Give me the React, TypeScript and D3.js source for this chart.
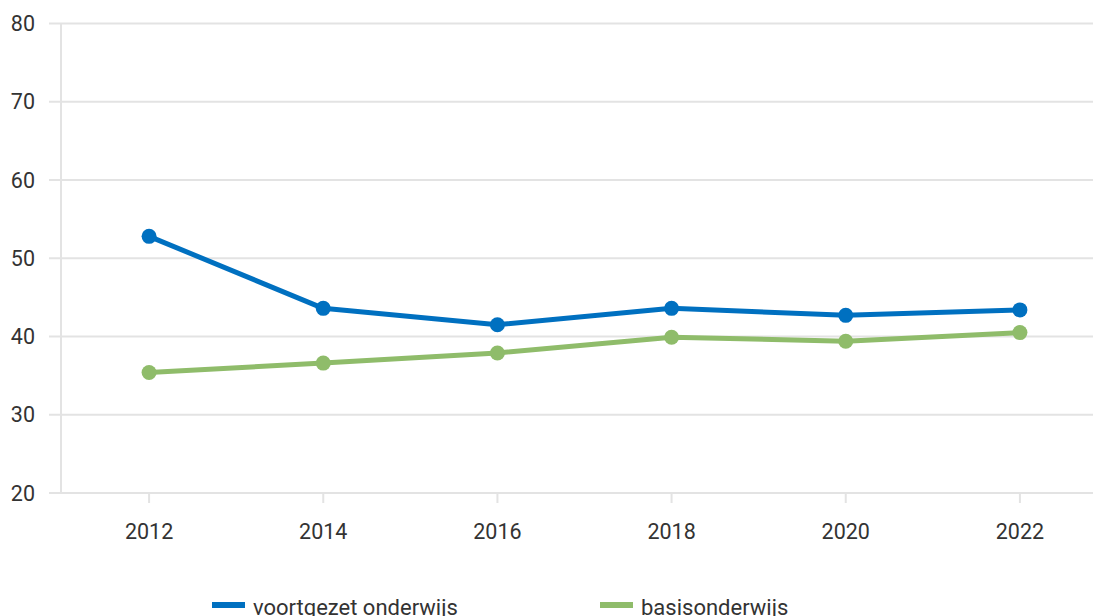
import { useRef, useEffect } from 'react';
import * as d3 from 'd3';

const years = ['2012', '2014', '2016', '2018', '2020', '2022'];
const voortgezet = [52.8, 43.6, 41.5, 43.6, 42.7, 43.4];
const basis = [35.4, 36.6, 37.9, 39.9, 39.4, 40.5];
const yTicks = [20, 30, 40, 50, 60, 70, 80];
const seriesNames = ['voortgezet onderwijs', 'basisonderwijs'];
const seriesColors = ['#0070c0', '#8fbc6a'];

export default function App() {
  const svgRef = useRef<SVGSVGElement>(null);
  const width = 1093;
  const height = 616;

  useEffect(() => {
    const svg = d3.select(svgRef.current);
    svg.selectAll('*').remove();
    const font = 'Roboto, sans-serif';

    const x = d3.scaleBand().domain(years).range([62, 1107]);
    const y = d3.scaleLinear().domain([20, 80]).range([493, 23.5]);

    // grid lines
    svg.append('g')
      .selectAll('line')
      .data(yTicks)
      .enter()
      .append('line')
      .attr('x1', 49)
      .attr('x2', width)
      .attr('y1', d => y(d))
      .attr('y2', d => y(d))
      .attr('stroke', '#e3e3e3')
      .attr('stroke-width', 2);

    // y axis line
    svg.append('line')
      .attr('x1', 61).attr('x2', 61)
      .attr('y1', y(80)).attr('y2', y(20))
      .attr('stroke', '#e3e3e3').attr('stroke-width', 2);

    svg.append('g')
      .selectAll('text')
      .data(yTicks)
      .enter()
      .append('text')
      .attr('x', 35)
      .attr('y', d => y(d))
      .attr('dy', '0.35em')
      .attr('text-anchor', 'end')
      .attr('font-family', font)
      .attr('font-size', 21.5)
      .attr('fill', '#333')
      .text(d => d);

    // x ticks
    const xc = (d: string) => (x(d) ?? 0) + x.bandwidth() / 2;
    svg.append('g')
      .selectAll('line')
      .data(years)
      .enter()
      .append('line')
      .attr('x1', d => xc(d)).attr('x2', d => xc(d))
      .attr('y1', 493).attr('y2', 503)
      .attr('stroke', '#e3e3e3').attr('stroke-width', 2);

    svg.append('g')
      .selectAll('text')
      .data(years)
      .enter()
      .append('text')
      .attr('x', d => xc(d))
      .attr('y', 531)
      .attr('dy', '0.35em')
      .attr('text-anchor', 'middle')
      .attr('font-family', font)
      .attr('font-size', 21.5)
      .attr('fill', '#333')
      .text(d => d);

    const line = d3.line<number>()
      .x((_, i) => xc(years[i]))
      .y(d => y(d));

    [voortgezet, basis].forEach((vals, k) => {
      svg.append('path')
        .datum(vals)
        .attr('d', line)
        .attr('fill', 'none')
        .attr('stroke', seriesColors[k])
        .attr('stroke-width', 5)
        .attr('stroke-linejoin', 'round');
      svg.append('g')
        .selectAll('circle')
        .data(vals)
        .enter()
        .append('circle')
        .attr('cx', (_, i) => xc(years[i]))
        .attr('cy', d => y(d))
        .attr('r', 7.5)
        .attr('fill', seriesColors[k]);
    });

    // legend
    const legendX = [212, 600];
    seriesNames.forEach((name, k) => {
      svg.append('rect')
        .attr('x', legendX[k])
        .attr('y', 602)
        .attr('width', 33)
        .attr('height', 6)
        .attr('fill', seriesColors[k]);
      svg.append('text')
        .attr('x', legendX[k] + 41)
        .attr('y', 607)
        .attr('dy', '0.35em')
        .attr('font-family', font)
        .attr('font-size', 22)
        .attr('fill', '#333')
        .text(name);
    });
  }, []);

  return (
    <svg
      ref={svgRef}
      width={width}
      height={height}
      style={{ position: 'absolute', left: 0, top: 0 }}
    ></svg>
  );
}
